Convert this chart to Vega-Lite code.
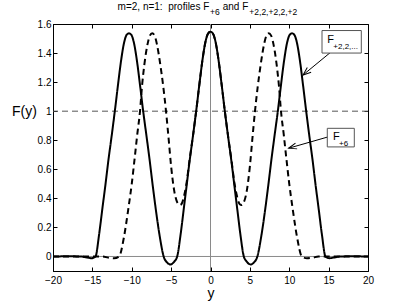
{
  "$schema": "https://vega.github.io/schema/vega-lite/v6.json",
  "width": 315,
  "height": 247,
  "autosize": "none",
  "padding": {"left": 53, "top": 24, "right": 38, "bottom": 34},
  "background": "white",
  "config": {
    "view": {"stroke": "#000", "strokeWidth": 1},
    "font": "Liberation Sans",
    "axis": {
      "domainColor": "#000", "tickColor": "#000", "labelColor": "#000", "labelFlush": false,
      "labelFontSize": 10, "labelFont": "Liberation Sans", "grid": false, "tickSize": -4,
      "titleFont": "Liberation Sans", "titleFontWeight": "normal", "titleFontSize": 14, "titleColor": "#000"
    }
  },
  "resolve": {"axis": {"x": "independent", "y": "independent"}},
  "layer": [
    {
      "data": {"values": [{}]},
      "mark": {"type": "rule", "color": "#8a8a8a", "strokeWidth": 1},
      "encoding": {"y": {"datum": 0, "type": "quantitative", "axis": null, "scale": {"domain": [-0.1, 1.6], "nice": false, "zero": false}}}
    },
    {
      "data": {"values": [{}]},
      "mark": {"type": "rule", "color": "#8a8a8a", "strokeWidth": 1},
      "encoding": {"x": {"datum": 0, "type": "quantitative", "axis": null, "scale": {"domain": [-20, 20], "nice": false, "zero": false}}}
    },
    {
      "data": {"values": [{}]},
      "mark": {"type": "rule", "color": "#555", "strokeWidth": 1, "strokeDash": [6, 4]},
      "encoding": {"y": {"datum": 1, "type": "quantitative", "axis": null}}
    },
    {
      "data": {"values": [
        {"series": "S", "x": -20, "y": 0}, {"series": "S", "x": -18, "y": 0.001}, {"series": "S", "x": -16.5, "y": 0}, {"series": "S", "x": -15.6, "y": -0.008}, {"series": "S", "x": -15.1, "y": -0.012}, {"series": "S", "x": -14.6, "y": 0},
        {"series": "S", "x": -14.15, "y": 0.15}, {"series": "S", "x": -13.73, "y": 0.33}, {"series": "S", "x": -13.35, "y": 0.49}, {"series": "S", "x": -12.97, "y": 0.66}, {"series": "S", "x": -12.55, "y": 0.83}, {"series": "S", "x": -12.15, "y": 1.0},
        {"series": "S", "x": -11.75, "y": 1.18}, {"series": "S", "x": -11.35, "y": 1.35}, {"series": "S", "x": -10.98, "y": 1.47}, {"series": "S", "x": -10.65, "y": 1.525}, {"series": "S", "x": -10.35, "y": 1.536}, {"series": "S", "x": -10.05, "y": 1.525},
        {"series": "S", "x": -9.72, "y": 1.47}, {"series": "S", "x": -9.35, "y": 1.35}, {"series": "S", "x": -8.95, "y": 1.18}, {"series": "S", "x": -8.55, "y": 1.0}, {"series": "S", "x": -8.13, "y": 0.83}, {"series": "S", "x": -7.72, "y": 0.66},
        {"series": "S", "x": -7.34, "y": 0.49}, {"series": "S", "x": -6.96, "y": 0.33}, {"series": "S", "x": -6.45, "y": 0.14}, {"series": "S", "x": -5.95, "y": 0}, {"series": "S", "x": -5.5, "y": -0.042}, {"series": "S", "x": -5.1, "y": -0.055},
        {"series": "S", "x": -4.6, "y": -0.035}, {"series": "S", "x": -4.23, "y": 0}, {"series": "S", "x": -3.8, "y": 0.15}, {"series": "S", "x": -3.39, "y": 0.33}, {"series": "S", "x": -3.05, "y": 0.48}, {"series": "S", "x": -2.67, "y": 0.65},
        {"series": "S", "x": -2.25, "y": 0.82}, {"series": "S", "x": -1.82, "y": 1.0}, {"series": "S", "x": -1.4, "y": 1.19}, {"series": "S", "x": -1.0, "y": 1.36}, {"series": "S", "x": -0.63, "y": 1.48}, {"series": "S", "x": -0.3, "y": 1.535},
        {"series": "S", "x": 0, "y": 1.547},
        {"series": "S", "x": 0.3, "y": 1.535}, {"series": "S", "x": 0.63, "y": 1.48}, {"series": "S", "x": 1.0, "y": 1.36}, {"series": "S", "x": 1.4, "y": 1.19}, {"series": "S", "x": 1.82, "y": 1.0}, {"series": "S", "x": 2.25, "y": 0.82},
        {"series": "S", "x": 2.67, "y": 0.65}, {"series": "S", "x": 3.05, "y": 0.48}, {"series": "S", "x": 3.39, "y": 0.33}, {"series": "S", "x": 3.8, "y": 0.15}, {"series": "S", "x": 4.23, "y": 0}, {"series": "S", "x": 4.6, "y": -0.035},
        {"series": "S", "x": 5.1, "y": -0.055}, {"series": "S", "x": 5.5, "y": -0.042}, {"series": "S", "x": 5.95, "y": 0}, {"series": "S", "x": 6.45, "y": 0.14}, {"series": "S", "x": 6.96, "y": 0.33}, {"series": "S", "x": 7.34, "y": 0.49},
        {"series": "S", "x": 7.72, "y": 0.66}, {"series": "S", "x": 8.13, "y": 0.83}, {"series": "S", "x": 8.55, "y": 1.0}, {"series": "S", "x": 8.95, "y": 1.18}, {"series": "S", "x": 9.35, "y": 1.35}, {"series": "S", "x": 9.72, "y": 1.47},
        {"series": "S", "x": 10.05, "y": 1.525}, {"series": "S", "x": 10.35, "y": 1.536}, {"series": "S", "x": 10.65, "y": 1.525}, {"series": "S", "x": 10.98, "y": 1.47}, {"series": "S", "x": 11.35, "y": 1.35}, {"series": "S", "x": 11.75, "y": 1.18},
        {"series": "S", "x": 12.15, "y": 1.0}, {"series": "S", "x": 12.55, "y": 0.83}, {"series": "S", "x": 12.97, "y": 0.66}, {"series": "S", "x": 13.35, "y": 0.49}, {"series": "S", "x": 13.73, "y": 0.33}, {"series": "S", "x": 14.15, "y": 0.15},
        {"series": "S", "x": 14.6, "y": 0}, {"series": "S", "x": 15.1, "y": -0.012}, {"series": "S", "x": 15.6, "y": -0.008}, {"series": "S", "x": 16.5, "y": 0}, {"series": "S", "x": 18, "y": 0.001}, {"series": "S", "x": 20, "y": 0},

        {"series": "D", "x": -20, "y": 0}, {"series": "D", "x": -15, "y": 0}, {"series": "D", "x": -13.7, "y": 0}, {"series": "D", "x": -13.0, "y": -0.008}, {"series": "D", "x": -12.25, "y": -0.012}, {"series": "D", "x": -11.6, "y": 0},
        {"series": "D", "x": -11.0, "y": 0.13}, {"series": "D", "x": -10.43, "y": 0.33}, {"series": "D", "x": -10.0, "y": 0.5}, {"series": "D", "x": -9.63, "y": 0.676}, {"series": "D", "x": -9.3, "y": 0.84}, {"series": "D", "x": -8.95, "y": 1.0},
        {"series": "D", "x": -8.7, "y": 1.17}, {"series": "D", "x": -8.4, "y": 1.32}, {"series": "D", "x": -8.0, "y": 1.46}, {"series": "D", "x": -7.7, "y": 1.52}, {"series": "D", "x": -7.4, "y": 1.536}, {"series": "D", "x": -7.1, "y": 1.52},
        {"series": "D", "x": -6.8, "y": 1.46}, {"series": "D", "x": -6.4, "y": 1.33}, {"series": "D", "x": -6.0, "y": 1.17}, {"series": "D", "x": -5.65, "y": 1.0}, {"series": "D", "x": -5.3, "y": 0.8}, {"series": "D", "x": -5.0, "y": 0.62},
        {"series": "D", "x": -4.6, "y": 0.45}, {"series": "D", "x": -4.2, "y": 0.37}, {"series": "D", "x": -3.87, "y": 0.354}, {"series": "D", "x": -3.6, "y": 0.37}, {"series": "D", "x": -3.3, "y": 0.43}, {"series": "D", "x": -3.0, "y": 0.52},
        {"series": "D", "x": -2.67, "y": 0.66}, {"series": "D", "x": -2.25, "y": 0.82}, {"series": "D", "x": -1.82, "y": 1.0}, {"series": "D", "x": -1.4, "y": 1.19}, {"series": "D", "x": -1.0, "y": 1.36}, {"series": "D", "x": -0.63, "y": 1.48},
        {"series": "D", "x": -0.3, "y": 1.535}, {"series": "D", "x": 0, "y": 1.547},
        {"series": "D", "x": 0.3, "y": 1.535}, {"series": "D", "x": 0.63, "y": 1.48}, {"series": "D", "x": 1.0, "y": 1.36}, {"series": "D", "x": 1.4, "y": 1.19}, {"series": "D", "x": 1.82, "y": 1.0}, {"series": "D", "x": 2.25, "y": 0.82},
        {"series": "D", "x": 2.67, "y": 0.66}, {"series": "D", "x": 3.0, "y": 0.52}, {"series": "D", "x": 3.3, "y": 0.43}, {"series": "D", "x": 3.6, "y": 0.37}, {"series": "D", "x": 3.87, "y": 0.354}, {"series": "D", "x": 4.2, "y": 0.37},
        {"series": "D", "x": 4.6, "y": 0.45}, {"series": "D", "x": 5.0, "y": 0.62}, {"series": "D", "x": 5.3, "y": 0.8}, {"series": "D", "x": 5.65, "y": 1.0}, {"series": "D", "x": 6.0, "y": 1.17}, {"series": "D", "x": 6.4, "y": 1.33},
        {"series": "D", "x": 6.8, "y": 1.46}, {"series": "D", "x": 7.1, "y": 1.52}, {"series": "D", "x": 7.4, "y": 1.536}, {"series": "D", "x": 7.7, "y": 1.52}, {"series": "D", "x": 8.0, "y": 1.46}, {"series": "D", "x": 8.4, "y": 1.32},
        {"series": "D", "x": 8.7, "y": 1.17}, {"series": "D", "x": 8.95, "y": 1.0}, {"series": "D", "x": 9.3, "y": 0.84}, {"series": "D", "x": 9.63, "y": 0.676}, {"series": "D", "x": 10.0, "y": 0.5}, {"series": "D", "x": 10.43, "y": 0.33},
        {"series": "D", "x": 11.0, "y": 0.13}, {"series": "D", "x": 11.6, "y": 0}, {"series": "D", "x": 12.25, "y": -0.012}, {"series": "D", "x": 13.0, "y": -0.008}, {"series": "D", "x": 13.7, "y": 0}, {"series": "D", "x": 15, "y": 0}, {"series": "D", "x": 20, "y": 0}
      ]},
      "mark": {"type": "line", "color": "#000", "strokeWidth": 2, "interpolate": "monotone"},
      "encoding": {
        "x": {"field": "x", "type": "quantitative", "scale": {"domain": [-20, 20], "nice": false, "zero": false},
              "axis": {"orient": "bottom", "values": [-20, -15, -10, -5, 0, 5, 10, 15, 20], "title": "y", "titleBaseline": "alphabetic", "titleY": 26, "labelPadding": 8}},
        "y": {"field": "y", "type": "quantitative", "scale": {"domain": [-0.1, 1.6], "nice": false, "zero": false},
              "axis": {"orient": "left", "values": [0, 0.2, 0.4, 0.6, 0.8, 1, 1.2, 1.4, 1.6], "format": "~g", "title": "F(y)", "titleAngle": 0, "titleX": -29, "titleY": 87, "titleAlign": "center", "titleBaseline": "middle", "labelPadding": 6}},
        "strokeDash": {"field": "series", "type": "nominal", "scale": {"domain": ["S", "D"], "range": [[1, 0], [6, 4]]}, "legend": null},
        "order": {"field": "x", "type": "quantitative"}
      }
    },
    {
      "data": {"values": [
        {"x1": 16.48, "y1": 1.46, "x2": 11.75, "y2": 1.249},
        {"x1": 15.0, "y1": 0.824, "x2": 9.92, "y2": 0.745}
      ]},
      "mark": {"type": "rule", "color": "#000", "strokeWidth": 1},
      "encoding": {
        "x": {"field": "x1", "type": "quantitative", "axis": {"orient": "top", "values": [-20, -15, -10, -5, 0, 5, 10, 15, 20], "labels": false, "domain": false, "title": null}},
        "y": {"field": "y1", "type": "quantitative", "axis": {"orient": "right", "values": [0, 0.2, 0.4, 0.6, 0.8, 1, 1.2, 1.4, 1.6], "labels": false, "domain": false, "title": null}},
        "x2": {"field": "x2"},
        "y2": {"field": "y2"}
      }
    },
    {
      "data": {"values": [
        {"x": 11.75, "y": 1.249, "ang": 230.6},
        {"x": 9.92, "y": 0.745, "ang": 253.8}
      ]},
      "mark": {"type": "point", "shape": "M-0.6,1.6L0,0L0.6,1.6", "filled": false, "stroke": "#000", "strokeWidth": 1, "size": 100, "opacity": 1},
      "encoding": {
        "x": {"field": "x", "type": "quantitative", "axis": null},
        "y": {"field": "y", "type": "quantitative", "axis": null},
        "angle": {"field": "ang", "type": "quantitative", "scale": null}
      }
    },
    {
      "data": {"values": [
        {"x1": 14.16, "x2": 19.15, "y1": 1.555, "y2": 1.40},
        {"x1": 14.83, "x2": 18.26, "y1": 0.882, "y2": 0.754}
      ]},
      "mark": {"type": "rect", "fill": "white", "stroke": "#555", "strokeWidth": 1},
      "encoding": {
        "x": {"field": "x1", "type": "quantitative", "axis": null},
        "x2": {"field": "x2"},
        "y": {"field": "y1", "type": "quantitative", "axis": null},
        "y2": {"field": "y2"}
      }
    },
    {
      "data": {"values": [
        {"x": 14.83, "y": 1.466, "main": "F", "sub": "+2,2,..."},
        {"x": 15.56, "y": 0.802, "main": "F", "sub": "+6"}
      ]},
      "layer": [
        {
          "mark": {"type": "text", "align": "left", "baseline": "alphabetic", "fontSize": 11, "color": "#000"},
          "encoding": {
            "x": {"field": "x", "type": "quantitative", "axis": null},
            "y": {"field": "y", "type": "quantitative", "axis": null},
            "text": {"field": "main"}
          }
        },
        {
          "mark": {"type": "text", "align": "left", "baseline": "alphabetic", "fontSize": 8, "dx": 6, "dy": 6, "color": "#000"},
          "encoding": {
            "x": {"field": "x", "type": "quantitative", "axis": null},
            "y": {"field": "y", "type": "quantitative", "axis": null},
            "text": {"field": "sub"}
          }
        }
      ]
    },
    {
      "data": {"values": [
        {"x": -0.15, "t": "m=2, n=1:\u00a0 profiles F"},
        {"x": 4.8, "t": "and F"}
      ]},
      "mark": {"type": "text", "align": "right", "baseline": "alphabetic", "fontSize": 10, "color": "#000"},
      "encoding": {
        "x": {"field": "x", "type": "quantitative", "axis": null},
        "y": {"datum": 1.693, "type": "quantitative", "axis": null},
        "text": {"field": "t"}
      }
    },
    {
      "data": {"values": [
        {"x": -0.05, "t": "+6"},
        {"x": 4.93, "t": "+2,2,+2,2,+2"}
      ]},
      "mark": {"type": "text", "align": "left", "baseline": "alphabetic", "fontSize": 8.5, "dy": 4.5, "color": "#000"},
      "encoding": {
        "x": {"field": "x", "type": "quantitative", "axis": null},
        "y": {"datum": 1.693, "type": "quantitative", "axis": null},
        "text": {"field": "t"}
      }
    }
  ]
}
